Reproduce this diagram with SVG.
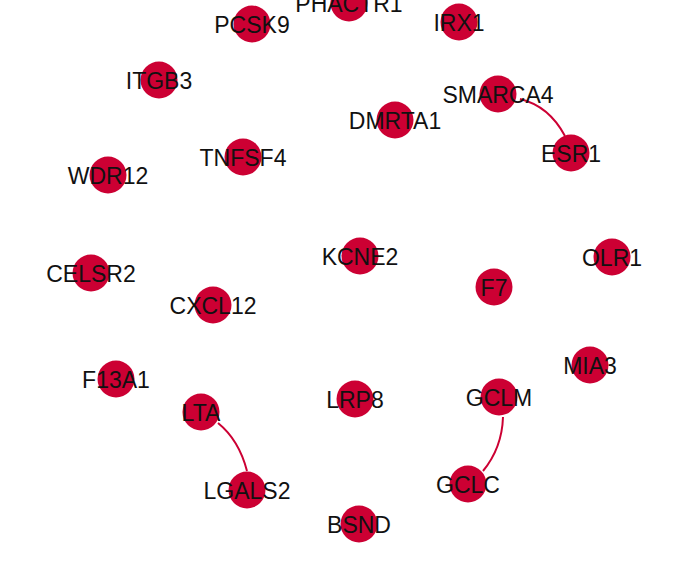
<svg xmlns="http://www.w3.org/2000/svg" width="696" height="576" viewBox="0 0 696 576">
  <style>
    .edge { fill: none; stroke: #cc0033; stroke-width: 2; }
    .node circle { fill: #cc0033; }
    .node text { font-family: "Liberation Sans", Arial, sans-serif; font-size: 23px; fill: #111; text-anchor: middle; }
  </style>
  <rect width="696" height="576" fill="#ffffff"/>
  <g id="edges">
    <path class="edge" d="M 520 99 Q 549 106 565 136"/>
    <path class="edge" d="M 218 423 Q 239 440 247 471"/>
    <path class="edge" d="M 503 417 Q 502 448 483 471"/>
  </g>
  <g id="PHACTR1" class="node"><circle cx="349" cy="3" r="18.5"/><text x="349" y="12">PHACTR1</text></g>
  <g id="PCSK9" class="node"><circle cx="252" cy="24" r="18.5"/><text x="252" y="32.5">PCSK9</text></g>
  <g id="IRX1" class="node"><circle cx="459" cy="22" r="18.5"/><text x="459" y="30.5">IRX1</text></g>
  <g id="ITGB3" class="node"><circle cx="159" cy="80" r="18.5"/><text x="159" y="88.5">ITGB3</text></g>
  <g id="SMARCA4" class="node"><circle cx="498" cy="94" r="18.5"/><text x="498" y="102.5">SMARCA4</text></g>
  <g id="DMRTA1" class="node"><circle cx="395" cy="120" r="18.5"/><text x="395" y="128.5">DMRTA1</text></g>
  <g id="ESR1" class="node"><circle cx="571" cy="153" r="18.5"/><text x="571" y="161.5">ESR1</text></g>
  <g id="TNFSF4" class="node"><circle cx="243" cy="157" r="18.5"/><text x="243" y="165.5">TNFSF4</text></g>
  <g id="WDR12" class="node"><circle cx="108" cy="175" r="18.5"/><text x="108" y="183.5">WDR12</text></g>
  <g id="KCNE2" class="node"><circle cx="360" cy="256" r="18.5"/><text x="360" y="264.5">KCNE2</text></g>
  <g id="OLR1" class="node"><circle cx="612" cy="257" r="18.5"/><text x="612" y="265.5">OLR1</text></g>
  <g id="CELSR2" class="node"><circle cx="91" cy="273" r="18.5"/><text x="91" y="281.5">CELSR2</text></g>
  <g id="F7" class="node"><circle cx="494" cy="287" r="18.5"/><text x="494" y="295.5">F7</text></g>
  <g id="CXCL12" class="node"><circle cx="213" cy="305" r="18.5"/><text x="213" y="313.5">CXCL12</text></g>
  <g id="MIA3" class="node"><circle cx="590" cy="365" r="18.5"/><text x="590" y="373.5">MIA3</text></g>
  <g id="F13A1" class="node"><circle cx="116" cy="379" r="18.5"/><text x="116" y="387.5">F13A1</text></g>
  <g id="LRP8" class="node"><circle cx="355" cy="399" r="18.5"/><text x="355" y="407.5">LRP8</text></g>
  <g id="GCLM" class="node"><circle cx="499" cy="397" r="18.5"/><text x="499" y="405.5">GCLM</text></g>
  <g id="LTA" class="node"><circle cx="201" cy="412" r="18.5"/><text x="201" y="420.5">LTA</text></g>
  <g id="LGALS2" class="node"><circle cx="247" cy="490" r="18.5"/><text x="247" y="498.5">LGALS2</text></g>
  <g id="GCLC" class="node"><circle cx="468" cy="484" r="18.5"/><text x="468" y="492.5">GCLC</text></g>
  <g id="BSND" class="node"><circle cx="359" cy="524" r="18.5"/><text x="359" y="532.5">BSND</text></g>
</svg>
